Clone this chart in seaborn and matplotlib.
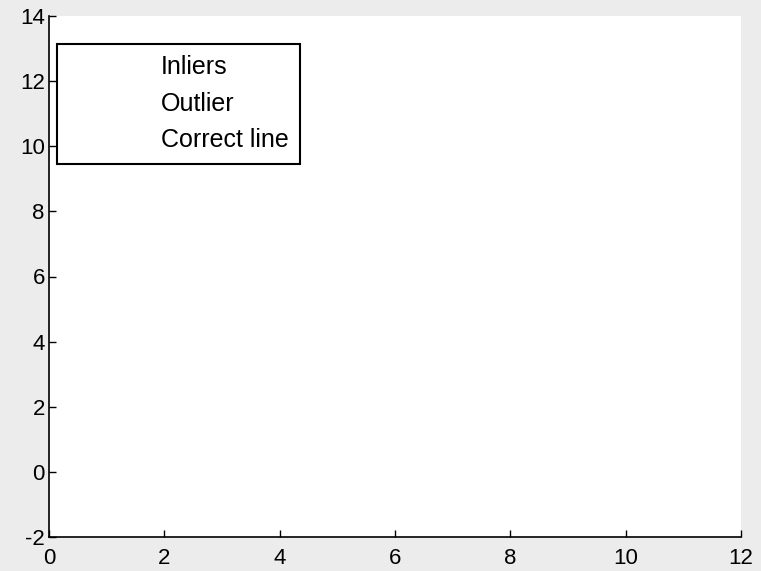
import matplotlib
matplotlib.use("Agg")
import matplotlib.pyplot as plt
import seaborn as sns
import pandas as pd

# Data (the reference chart contains no visible marks)
series_names = ["Inliers", "Outlier", "Correct line"]
inlier_x, inlier_y = [], []
outlier_x, outlier_y = [], []
line_x, line_y = [], []
x_ticks = [0, 2, 4, 6, 8, 10, 12]
y_ticks = [-2, 0, 2, 4, 6, 8, 10, 12, 14]

sns.set_theme(style="ticks")
plt.rcParams["font.family"] = ["Liberation Sans", "DejaVu Sans"]
plt.rcParams["xtick.direction"] = "in"
plt.rcParams["ytick.direction"] = "in"
plt.rcParams["axes.unicode_minus"] = False
plt.rcParams["text.color"] = "black"

fig = plt.figure(figsize=(7.61, 5.71), dpi=100, facecolor="#ececec")
ax = fig.add_axes([49 / 761, 1 - 537 / 571, (741 - 49) / 761, (537 - 16) / 571])
ax.set_facecolor("white")

for xs, ys, name in [(inlier_x, inlier_y, series_names[0]),
                     (outlier_x, outlier_y, series_names[1]),
                     (line_x, line_y, series_names[2])]:
    ax.plot(xs, ys, linestyle="none", marker="none", label=name)

ax.set_xlim(0, 12)
ax.set_ylim(-2, 14)
ax.set_xticks(x_ticks)
ax.set_yticks(y_ticks)
ax.tick_params(labelsize=16, length=5, width=1, color="black", labelcolor="black")
ax.tick_params(axis="x", pad=8)
ax.tick_params(axis="y", pad=3)
sns.despine(ax=ax)
for s in ["left", "bottom"]:
    ax.spines[s].set_color("black")
    ax.spines[s].set_linewidth(1.2)

leg = ax.legend(loc="upper left", bbox_to_anchor=((57 - 49) / 692, 1 - (44 - 16) / 521),
                borderaxespad=0, fontsize=18, handlelength=2.7, handletextpad=1.0,
                labelspacing=0.5, borderpad=0.45, fancybox=False, framealpha=1,
                edgecolor="black", labelcolor="black")
leg.get_frame().set_linewidth(1.5)

fig.savefig("out.png", dpi=100, facecolor=fig.get_facecolor())
